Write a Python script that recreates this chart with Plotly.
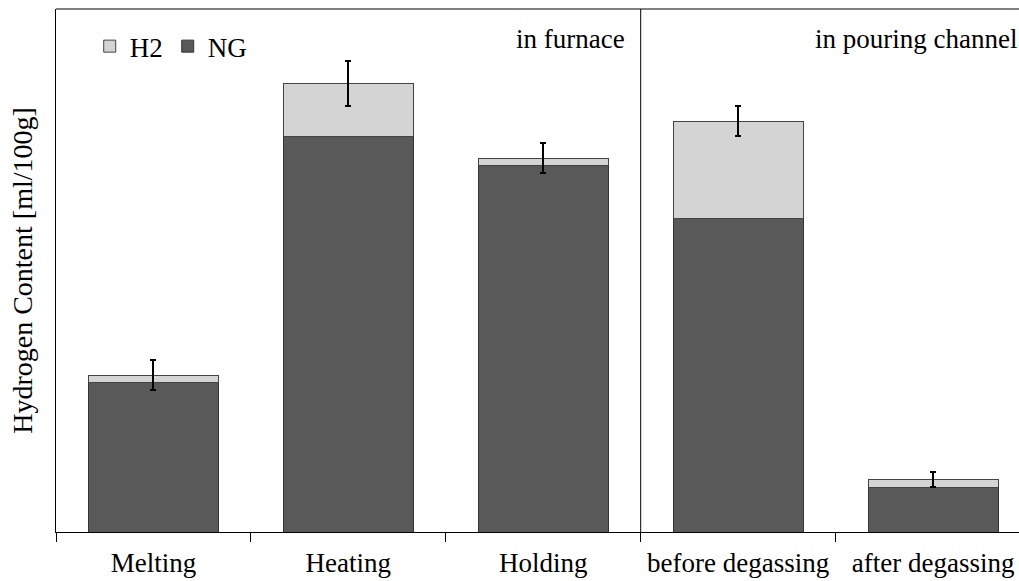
import plotly.graph_objects as go

# Hydrogen content per process stage (ml/100g)
stages = ["Melting", "Heating", "Holding", "before degassing", "after degassing"]
ng_values = [0.100, 0.265, 0.245, 0.210, 0.030]
h2_values = [0.005, 0.035, 0.005, 0.065, 0.005]
h2_error = [0.010, 0.015, 0.010, 0.010, 0.005]

FONT = "Liberation Serif"

fig = go.Figure()
fig.add_trace(go.Bar(
    x=stages, y=ng_values, name="NG",
    marker=dict(color="#595959", line=dict(color="#333333", width=1)),
))
fig.add_trace(go.Bar(
    x=stages, y=h2_values, name="H2",
    marker=dict(color="#d4d4d4", line=dict(color="#444444", width=1)),
    error_y=dict(type="data", array=h2_error, color="black", thickness=2, width=3),
))

# separator between furnace and pouring channel, and the top frame line
fig.add_shape(type="line", xref="x", yref="paper", x0=2.5, x1=2.5, y0=0, y1=1,
              line=dict(color="black", width=1))
fig.add_shape(type="line", xref="paper", yref="paper", x0=0, x1=1, y0=1, y1=1,
              line=dict(color="black", width=1))

fig.add_annotation(text="in furnace", xref="x", yref="paper", x=2.43, y=0.975,
                   xanchor="right", yanchor="top", showarrow=False,
                   font=dict(family=FONT, size=27, color="black"))
fig.add_annotation(text="in pouring channel", xref="paper", yref="paper", x=1.0, y=0.975,
                   xanchor="right", yanchor="top", showarrow=False,
                   font=dict(family=FONT, size=27, color="black"))

fig.update_layout(
    width=1019, height=581,
    margin=dict(l=56, r=0, t=9, b=49),
    paper_bgcolor="white", plot_bgcolor="white",
    barmode="stack", bargap=0.333,
    font=dict(family=FONT, size=27, color="black"),
    showlegend=True,
    legend=dict(orientation="h", x=0.035, y=0.975, xanchor="left", yanchor="top",
                traceorder="reversed", bgcolor="rgba(0,0,0,0)",
                font=dict(family=FONT, size=27, color="black")),
    xaxis=dict(range=[-0.5, 4.441], tickson="boundaries", ticks="outside",
               ticklen=9, tickcolor="black", tickwidth=1, showline=True,
               linecolor="black", linewidth=1, showgrid=False, zeroline=False,
               ticklabelstandoff=7,
               tickfont=dict(family=FONT, size=27, color="black")),
    yaxis=dict(range=[0, 0.35], showticklabels=False, ticks="", showline=True,
               linecolor="black", linewidth=1, showgrid=False, zeroline=False,
               title=dict(text="Hydrogen Content [ml/100g]", standoff=14,
                          font=dict(family=FONT, size=28, color="black"))),
)

fig.write_html("out.html")
